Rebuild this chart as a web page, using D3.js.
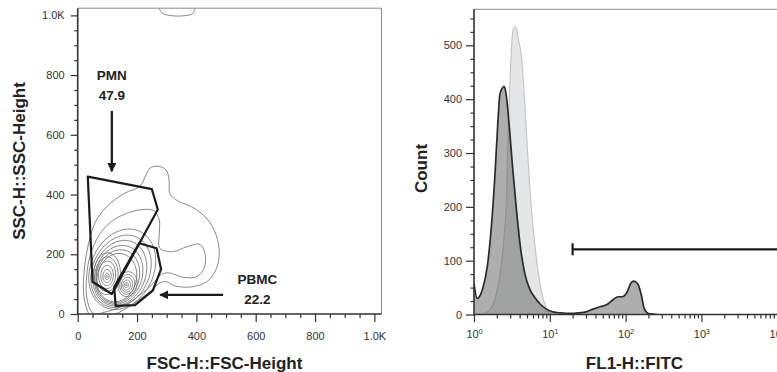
<!DOCTYPE html>
<html><head><meta charset="utf-8">
<script src="https://cdn.jsdelivr.net/npm/d3@7"></script>
<style>
body{margin:0;background:#fff}
svg{display:block;font-family:"Liberation Sans",Arial,sans-serif}
</style></head><body>
<svg id="chart" width="777" height="372"></svg>
<script>
// ---- left panel: FSC vs SSC contour plot (data units 0..1024) ----
const contourOuter = [[42,-3],[25,37],[19,90],[22,147],[30,204],[42,258],[58,305],[81,341],[115,375],[159,405],[210,428],
  [230,465],[244,489],[271,495],[298,482],[308,449],[311,402],[338,378],[384,359],[429,326],[457,287],[474,237],[476,186],
  [463,142],[435,108],[384,91],[328,94],[300,108],[277,104],[250,80],[210,50],[166,20],[126,0],[75,-7]];
const contourSecond = [[32,47],[30,125],[41,192],[69,259],[109,306],[165,337],[221,350],[257,346],[275,315],[275,270],[277,220],
  [322,209],[367,225],[412,233],[429,203],[426,153],[401,125],[356,123],[305,138],[280,131],[255,103],[210,64],[159,30],[98,8],[53,2]];
const contourTop = [[272,1030],[285,1008],[315,999],[360,999],[388,1006],[398,1030]];
// inner rings: [cx, cy, major, minor, angle]
const rings = [
  [150,150,140,106,65],[146,143,126,96,65],[142,137,113,87,68],[138,131,101,79,70],[135,126,91,72,72],[132,122,82,66,75],
  [99,135,70,45,88],[99,133,58,37,88],[99,131,46,29,88],[99,129,34,21,88],[99,127,22,14,88],[99,126,11,7,88],[99,126,4,3,88],
  [168,100,42,32,80],[167,99,33,25,80],[166,98,25,19,80],[165,97,17,13,80],[164,97,9,7,80],[164,97,3,3,80]
];
const gatePMN = [[34,460],[250,418],[270,350],[115,67],[50,108]];
const gatePBMC = [[207,237],[266,220],[281,150],[253,78],[193,30],[128,27],[123,90]];
const arrowPMN = [[115,680],[115,478]];
const arrowPBMC = [[490,64],[278,64]];
const gateNames = ["PMN","PBMC"];
const gatePct = ["47.9","22.2"];
const gateLabelPos = [[115,783],[606,100]];
const scatterTicks = [0,200,400,600,800,1000];

// ---- right panel: FL1 histogram ----
const darkX = [1.0,1.1,1.3,1.5,1.7,1.9,2.05,2.2,2.35,2.5,2.65,2.9,3.2,3.6,4.1,4.7,5.4,6.3,7.5,9,11,14,18,24,30,37,45,56,69,79,89,105,117,127,135,147,163,175,190,210,260];
const darkCount = [58,30,48,90,165,265,350,410,420,424,410,355,280,200,125,75,48,32,19,10,5,3,2,3,5,10,14,18,28,33,33,42,58,62,61,55,33,12,4,1,0];
const lightX = [1.0,1.3,1.6,1.9,2.2,2.45,2.7,2.85,3.0,3.15,3.3,3.47,3.65,3.8,4.26,4.64,5.1,5.77,6.78,8.0,9.3,10.5];
const lightCount = [0,1,8,30,75,130,230,360,440,505,530,535,530,515,475,400,300,190,95,35,8,0];
const histGate = [20,10000];
const histGateCount = 121;
const countTicks = [0,100,200,300,400,500];
const decadeTicks = [1,10,100,1000,10000];

const svg = d3.select('#chart');

// ================= left panel =================
const L = {x0:77.7, x1:381.5, y0:314, y1:8.2};
const x = d3.scaleLinear().domain([0,1024]).range([L.x0,L.x1]);
const y = d3.scaleLinear().domain([0,1024]).range([L.y0,L.y1]);

svg.append('clipPath').attr('id','clipL').append('rect')
  .attr('x',L.x0).attr('y',L.y1).attr('width',L.x1-L.x0).attr('height',L.y0-L.y1);

const gL = svg.append('g');
const closed = d3.line().x(d=>x(d[0])).y(d=>y(d[1])).curve(d3.curveCatmullRomClosed.alpha(0.5));
const open = d3.line().x(d=>x(d[0])).y(d=>y(d[1])).curve(d3.curveCatmullRom.alpha(0.5));

function ringPts(r){
  const [cx,cy,a,b,ang] = r, th = ang*Math.PI/180, n = 40;
  return d3.range(n).map(i=>{
    const t = i/n*2*Math.PI, ca = a*Math.cos(t), sb = b*Math.sin(t);
    return [cx+ca*Math.cos(th)-sb*Math.sin(th), cy+ca*Math.sin(th)+sb*Math.cos(th)];
  });
}

const cg = gL.append('g').attr('clip-path','url(#clipL)')
  .attr('fill','none').attr('stroke','#727272').attr('stroke-width',0.85);
cg.append('path').attr('d',closed(contourOuter));
cg.append('path').attr('d',closed(contourSecond));
cg.append('path').attr('d',open(contourTop));
cg.selectAll('path.ring').data(rings).join('path').attr('class','ring').attr('d',r=>closed(ringPts(r)));

// frame
gL.append('path').attr('d',`M${L.x0},${L.y1}H${L.x1}V${L.y0}`).attr('fill','none').attr('stroke','#8a8a8a').attr('stroke-width',1);

// gates
const poly = d3.line().x(d=>x(d[0])).y(d=>y(d[1])).curve(d3.curveLinearClosed);
gL.selectAll('path.gate').data([gatePMN,gatePBMC]).join('path').attr('class','gate')
  .attr('d',poly).attr('fill','none').attr('stroke','#1c1c1c').attr('stroke-width',2.2).attr('stroke-linejoin','round');

// arrows
svg.append('defs').append('marker').attr('id','ah').attr('viewBox','0 0 10 10').attr('refX',9).attr('refY',5)
  .attr('markerWidth',4).attr('markerHeight',4).attr('orient','auto').attr('markerUnits','strokeWidth')
  .append('path').attr('d','M0,0L10,5L0,10Z').attr('fill','#1c1c1c');
gL.selectAll('path.arrow').data([arrowPMN,arrowPBMC]).join('path').attr('class','arrow')
  .attr('d',d3.line().x(d=>x(d[0])).y(d=>y(d[1]))).attr('stroke','#1c1c1c').attr('stroke-width',2.3)
  .attr('fill','none').attr('marker-end','url(#ah)');

// gate labels
gateNames.forEach((n,i)=>{
  const [lx,ly] = gateLabelPos[i];
  const t = gL.append('text').attr('x',x(lx)).attr('y',y(ly)).attr('text-anchor','middle')
    .attr('font-weight','bold').attr('font-size',13.5).attr('fill','#222');
  t.append('tspan').attr('x',x(lx)).text(n);
  t.append('tspan').attr('x',x(lx)).attr('dy',20).text(gatePct[i]);
});

function styleAxis(g){
  g.select('.domain').remove();
  g.selectAll('.tick line').attr('stroke','#333').attr('stroke-width',1.2);
  g.selectAll('.tick text').attr('fill','#333').attr('font-size',11).attr('font-family','"Liberation Sans",Arial,sans-serif');
}
const fmtK = v => v===1000 ? '1.0K' : String(v);
const minorL = d3.range(0,1001,50).filter(v=>v%200);

// left y axis
gL.append('g').attr('transform',`translate(${L.x0},0)`).call(d3.axisLeft(y).tickValues(minorL).tickSize(3.5).tickFormat('')).call(styleAxis);
gL.append('g').attr('transform',`translate(${L.x0},0)`).call(d3.axisLeft(y).tickValues(scatterTicks).tickSize(7).tickPadding(6).tickFormat(fmtK)).call(styleAxis);
// left x axis
gL.append('g').attr('transform',`translate(0,${L.y0})`).call(d3.axisBottom(x).tickValues(minorL).tickSize(4).tickFormat('')).call(styleAxis);
gL.append('g').attr('transform',`translate(0,${L.y0})`).call(d3.axisBottom(x).tickValues(scatterTicks).tickSize(8).tickPadding(10).tickFormat(fmtK)).call(styleAxis);
gL.append('path').attr('d',`M${L.x0},${L.y1}V${L.y0}H${L.x1}`).attr('fill','none').attr('stroke','#333').attr('stroke-width',1.6);

gL.append('text').attr('x',224.5).attr('y',369).attr('text-anchor','middle').attr('font-weight','bold')
  .attr('font-size',17).attr('fill','#222').text('FSC-H::FSC-Height');
gL.append('text').attr('transform','translate(25,161) rotate(-90)').attr('text-anchor','middle').attr('font-weight','bold')
  .attr('font-size',17).attr('fill','#222').text('SSC-H::SSC-Height');

// ================= right panel =================
const R = {x0:474, x1:777.2, y0:314.5, y1:9.3};
const xr = d3.scaleLog().domain([1,1e4]).range([R.x0,R.x1]);
const yr = d3.scaleLinear().domain([0,567]).range([R.y0,R.y1]);
const gR = svg.append('g');
svg.append('clipPath').attr('id','clipR').append('rect')
  .attr('x',R.x0).attr('y',R.y1).attr('width',R.x1-R.x0).attr('height',R.y0-R.y1);

const light = lightX.map((v,i)=>[v,lightCount[i]]);
const dark = darkX.map((v,i)=>[v,darkCount[i]]);
const histArea = d3.area().x(d=>xr(d[0])).y0(yr(0)).y1(d=>yr(d[1])).curve(d3.curveMonotoneX);
const histLine = d3.line().x(d=>xr(d[0])).y(d=>yr(d[1])).curve(d3.curveMonotoneX);
const hg = gR.append('g').attr('clip-path','url(#clipR)');
hg.append('path').attr('d',histArea(light)).attr('fill','#e5e6e7');
hg.append('path').attr('d',histLine(light)).attr('fill','none').attr('stroke','#c2c2c2').attr('stroke-width',1.1);
hg.append('path').attr('d',histArea(dark)).attr('fill','#555').attr('fill-opacity',0.48);
hg.append('path').attr('d',histLine(dark)).attr('fill','none').attr('stroke','#2a2a2a').attr('stroke-width',1.7);

// frame
gR.append('path').attr('d',`M${R.x0},${R.y1}H${R.x1}`).attr('stroke','#8a8a8a').attr('stroke-width',1);

// gate bar
const gy = yr(histGateCount);
gR.append('path').attr('d',`M${xr(histGate[0])},${gy}H${xr(histGate[1])}M${xr(histGate[0])},${gy-6}V${gy+6}`)
  .attr('stroke','#1c1c1c').attr('stroke-width',2.2).attr('fill','none');

const minorCount = d3.range(0,551,25).filter(v=>v%100);
gR.append('g').attr('transform',`translate(${R.x0},0)`).call(d3.axisLeft(yr).tickValues(minorCount).tickSize(3.5).tickFormat('')).call(styleAxis);
gR.append('g').attr('transform',`translate(${R.x0},0)`).call(d3.axisLeft(yr).tickValues(countTicks).tickSize(8).tickPadding(4)).call(styleAxis);

const minorLog = [];
decadeTicks.slice(0,-1).forEach(d=>{ for(let k=2;k<10;k++) minorLog.push(d*k); });
gR.append('g').attr('transform',`translate(0,${R.y0})`).call(d3.axisBottom(xr).tickValues(minorLog).tickSize(4).tickFormat('')).call(styleAxis);
const xax = gR.append('g').attr('transform',`translate(0,${R.y0})`)
  .call(d3.axisBottom(xr).tickValues(decadeTicks).tickSize(7.5).tickPadding(8).tickFormat('')).call(styleAxis);
xax.selectAll('.tick text').each(function(d){
  const t = d3.select(this);
  t.append('tspan').text('10');
  t.append('tspan').attr('font-size',7).attr('dy',-4).text(String(Math.round(Math.log10(d))));
});
gR.append('path').attr('d',`M${R.x0},${R.y1}V${R.y0}H${R.x1}`).attr('fill','none').attr('stroke','#333').attr('stroke-width',1.6);

gR.append('text').attr('x',634.5).attr('y',369).attr('text-anchor','middle').attr('font-weight','bold')
  .attr('font-size',17).attr('fill','#222').text('FL1-H::FITC');
gR.append('text').attr('transform','translate(427,168.5) rotate(-90)').attr('text-anchor','middle').attr('font-weight','bold')
  .attr('font-size',17).attr('fill','#222').text('Count');
</script>
</body></html>
